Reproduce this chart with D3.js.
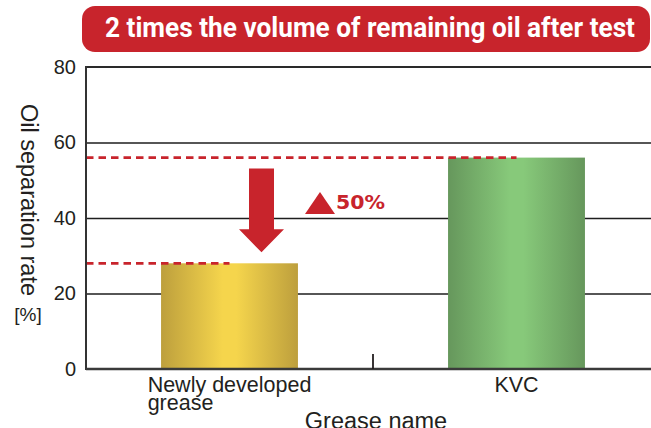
<!DOCTYPE html>
<html lang="en">
<head>
<meta charset="UTF-8">
<title>Oil separation rate</title>
<script src="https://cdn.jsdelivr.net/npm/d3@7"></script>
<style>
  body { margin: 0; background: #fff; }
  svg { display: block; font-family: "Liberation Sans", Arial, sans-serif; }
</style>
</head>
<body>
<div id="chart"></div>
<script>
var categories = ['Newly developed grease', 'KVC'];
var labelLines = [['Newly developed', 'grease'], ['KVC']];
var values = [28, 56];
var yTicks = [0, 20, 40, 60, 80];
var title = '2 times the volume of remaining oil after test';
var note = '50%';

var w = 651, h = 428;
var plotLeft = 86, plotRight = 660, plotTop = 67, plotBottom = 369;
var red = '#c8242c';
var ink = '#231f20';

var svg = d3.select('#chart').append('svg')
  .attr('width', w)
  .attr('height', h);

var defs = svg.append('defs');
function hGrad(id, edge, mid) {
  var g = defs.append('linearGradient').attr('id', id)
    .attr('x1', '0%').attr('x2', '100%').attr('y1', '0%').attr('y2', '0%');
  g.append('stop').attr('offset', '0%').attr('stop-color', edge);
  g.append('stop').attr('offset', '45%').attr('stop-color', mid);
  g.append('stop').attr('offset', '55%').attr('stop-color', mid);
  g.append('stop').attr('offset', '100%').attr('stop-color', edge);
}
hGrad('gold', '#bd9f3d', '#f5d54c');
hGrad('green', '#66975c', '#87c97a');

var xScale = d3.scaleBand()
  .domain(categories)
  .range([plotLeft, plotRight])
  .padding(0);

var yScale = d3.scaleLinear()
  .domain([0, 80])
  .range([plotBottom, plotTop]);

var barW = xScale.bandwidth() * 0.477;
function cx(d) { return xScale(d) + xScale.bandwidth() / 2; }

// title banner
svg.append('rect')
  .attr('x', 82).attr('y', 6)
  .attr('width', 568).attr('height', 46)
  .attr('rx', 13).attr('ry', 13)
  .attr('fill', red);
svg.append('text')
  .attr('x', 370).attr('y', 37)
  .attr('text-anchor', 'middle')
  .attr('fill', '#fff')
  .attr('font-family', '"Liberation Sans Narrow", "Roboto", sans-serif')
  .attr('font-weight', 'bold')
  .attr('font-size', '28px')
  .attr('textLength', 530)
  .attr('lengthAdjust', 'spacingAndGlyphs')
  .text(title);

// gridlines
var grid = svg.append('g')
  .attr('transform', 'translate(' + plotLeft + ',0)')
  .call(d3.axisLeft(yScale).tickValues(yTicks.slice(1, 4)).tickSize(-(plotRight - plotLeft)).tickFormat(''));
grid.select('.domain').remove();
grid.selectAll('line').attr('stroke', '#1e1e1e').attr('stroke-width', 1.3);

// bars
svg.append('g').selectAll('rect')
  .data(values)
  .enter().append('rect')
  .attr('x', function (d, i) { return cx(categories[i]) - barW / 2; })
  .attr('y', function (d) { return yScale(d); })
  .attr('width', barW)
  .attr('height', function (d) { return yScale(0) - yScale(d); })
  .attr('fill', function (d, i) { return i === 0 ? 'url(#gold)' : 'url(#green)'; });

// dashed reference lines
svg.append('g').selectAll('line')
  .data(values)
  .enter().append('line')
  .attr('x1', plotLeft)
  .attr('x2', function (d, i) { return cx(categories[i]); })
  .attr('y1', function (d) { return yScale(d); })
  .attr('y2', function (d) { return yScale(d); })
  .attr('stroke', red)
  .attr('stroke-width', 2.7)
  .attr('stroke-dasharray', '7.5,5');

// frame: left, top and bottom lines
svg.append('line').attr('x1', plotLeft).attr('x2', w).attr('y1', plotTop).attr('y2', plotTop)
  .attr('stroke', '#2a2a2a').attr('stroke-width', 1.8);
svg.append('line').attr('x1', plotLeft).attr('x2', plotLeft).attr('y1', plotTop - 0.9).attr('y2', plotBottom + 1)
  .attr('stroke', '#333').attr('stroke-width', 2);
svg.append('line').attr('x1', plotLeft).attr('x2', w).attr('y1', plotBottom).attr('y2', plotBottom)
  .attr('stroke', '#3a3a3a').attr('stroke-width', 2.4);

// tick between categories
svg.append('line')
  .attr('x1', xScale(categories[1])).attr('x2', xScale(categories[1]))
  .attr('y1', plotBottom - 15).attr('y2', plotBottom)
  .attr('stroke', ink).attr('stroke-width', 1.8);

// y axis labels
var yAxis = svg.append('g')
  .attr('transform', 'translate(' + plotLeft + ',0)')
  .call(d3.axisLeft(yScale).tickValues(yTicks).tickSize(0).tickPadding(10));
yAxis.select('.domain').remove();
yAxis.selectAll('text')
  .attr('font-family', '"Liberation Sans", Arial, sans-serif')
  .attr('font-size', '20px')
  .attr('fill', ink);

// x axis labels
svg.append('g').selectAll('text')
  .data(categories)
  .enter().append('text')
  .each(function (d, i) {
    var t = d3.select(this)
      .attr('font-size', '21.5px')
      .attr('fill', ink);
    var lines = labelLines[i];
    t.append('tspan').attr('y', 392).text(lines[0]);
    var wid = this.getComputedTextLength();
    var x0 = cx(d) - wid / 2;
    t.select('tspan').attr('x', x0);
    for (var k = 1; k < lines.length; k++) {
      t.append('tspan').attr('x', x0).attr('y', 392 + 18 * k).text(lines[k]);
    }
  });

svg.append('text')
  .attr('x', 376).attr('y', 429)
  .attr('text-anchor', 'middle')
  .attr('font-size', '23.5px')
  .attr('fill', ink)
  .text('Grease name');

// y title
svg.append('text')
  .attr('transform', 'translate(21,' + 200 + ') rotate(90)')
  .attr('text-anchor', 'middle')
  .attr('font-size', '23.5px')
  .attr('fill', ink)
  .text('Oil separation rate');
svg.append('text')
  .attr('x', 28).attr('y', 321)
  .attr('text-anchor', 'middle')
  .attr('font-size', '19px')
  .attr('fill', ink)
  .text('[%]');

// down arrow between the two levels
var ax = cx(categories[0]) + 32;
var yTop = yScale(values[1]) + 11;
var yTip = yScale(values[0]) - 11;
var headH = 23, shaftHalf = 12.5, headHalf = 22.5;
svg.append('path')
  .attr('d', 'M' + (ax - shaftHalf) + ',' + yTop +
    'H' + (ax + shaftHalf) +
    'V' + (yTip - headH) +
    'H' + (ax + headHalf) +
    'L' + ax + ',' + yTip +
    'L' + (ax - headHalf) + ',' + (yTip - headH) +
    'H' + (ax - shaftHalf) + 'Z')
  .attr('fill', red);

// triangle and percentage note
var tx = 320, ty = 214;
svg.append('path')
  .attr('d', 'M' + (tx - 15) + ',' + ty + 'L' + tx + ',' + (ty - 22) + 'L' + (tx + 15) + ',' + ty + 'Z')
  .attr('fill', red);
svg.append('text')
  .attr('x', 336).attr('y', 209)
  .attr('font-family', '"DejaVu Sans", sans-serif')
  .attr('font-weight', 'bold')
  .attr('font-size', '19px')
  .attr('textLength', 49)
  .attr('lengthAdjust', 'spacingAndGlyphs')
  .attr('fill', red)
  .text(note);
</script>
</body>
</html>
